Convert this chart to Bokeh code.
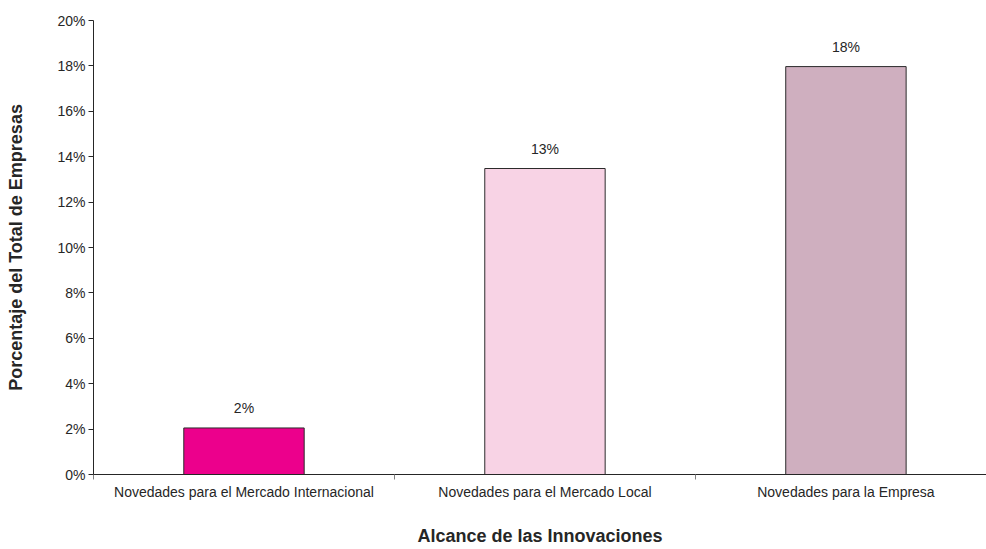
from bokeh.plotting import figure
from bokeh.models import ColumnDataSource, FixedTicker, NumeralTickFormatter, Range1d
from bokeh.core.properties import value
from bokeh.embed import file_html
from bokeh.resources import INLINE

categories = ["Novedades para el Mercado Internacional",
              "Novedades para el Mercado Local",
              "Novedades para la Empresa"]
values = [0.0205, 0.1348, 0.1797]
labels = ["2%", "13%", "18%"]
colors = ["#EC008C", "#F8D3E5", "#CFAFBF"]
y_ticks = [0.0, 0.02, 0.04, 0.06, 0.08, 0.10, 0.12, 0.14, 0.16, 0.18, 0.20]
x_title = "Alcance de las Innovaciones"
y_title = "Porcentaje del Total de Empresas"

xs = [i + 0.5 for i in range(len(categories))]
src = ColumnDataSource(dict(x=xs, top=values, label=labels, color=colors))

FONT = "Liberation Sans"
TXT = "#262626"

p = figure(width=986, height=549, output_backend="svg", toolbar_location=None,
           x_range=Range1d(0, 2.967), y_range=Range1d(0, 0.20),
           min_border_left=93, min_border_right=0, min_border_top=20, min_border_bottom=75)
p.outline_line_color = None
p.xgrid.visible = False
p.ygrid.visible = False

p.vbar(x="x", top="top", width=0.4, bottom=0, fill_color="color",
       line_color="#2b2b2b", line_width=1, source=src)
p.text(x="x", y="top", text="label", source=src, y_offset=-12,
       text_align="center", text_baseline="bottom",
       text_font=value(FONT), text_font_size="14px", text_color=TXT)

# x axis
xa = p.xaxis[0]
xa.ticker = FixedTicker(ticks=xs, minor_ticks=[float(i) for i in range(len(categories) + 1)])
xa.major_label_overrides = {x: c for x, c in zip(xs, categories)}
xa.major_tick_out = 0
xa.major_tick_in = 0
xa.minor_tick_out = 5
xa.minor_tick_in = 0
xa.minor_tick_line_color = "#808080"
xa.axis_line_color = "#262626"
xa.major_label_standoff = 4
xa.major_label_text_font = FONT
xa.major_label_text_font_size = "14px"
xa.major_label_text_color = TXT
xa.axis_label = x_title
xa.axis_label_text_font = FONT
xa.axis_label_text_font_size = "18px"
xa.axis_label_text_font_style = "bold"
xa.axis_label_text_color = TXT
xa.axis_label_standoff = 23

# y axis
ya = p.yaxis[0]
ya.ticker = FixedTicker(ticks=y_ticks)
ya.formatter = NumeralTickFormatter(format="0%")
ya.major_tick_out = 5
ya.major_tick_in = 0
ya.minor_tick_line_color = None
ya.axis_line_color = "#262626"
ya.major_tick_line_color = "#262626"
ya.major_label_standoff = 3
ya.major_label_text_font = FONT
ya.major_label_text_font_size = "14px"
ya.major_label_text_color = TXT
ya.axis_label = y_title
ya.axis_label_text_font = FONT
ya.axis_label_text_font_size = "18px"
ya.axis_label_text_font_style = "bold"
ya.axis_label_text_color = TXT
ya.axis_label_standoff = 28

open("out.html", "w").write(file_html(p, INLINE))
